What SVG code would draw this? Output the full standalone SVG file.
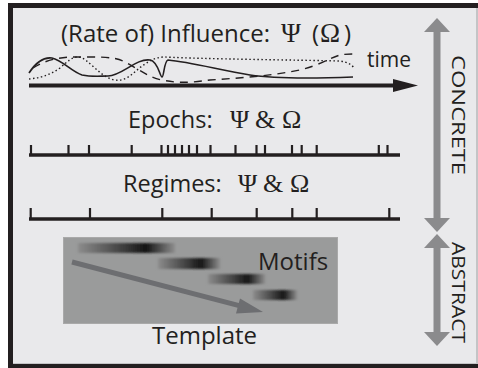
<svg xmlns="http://www.w3.org/2000/svg" width="478" height="368" viewBox="0 0 478 368">
<style>
.t{font-family:"Open Sans","Liberation Sans",sans-serif;fill:#231f20}
.s{font-family:"Liberation Serif","Times New Roman",serif;font-size:26px}
.ax{stroke:#231f20;fill:none}
.tk{stroke:#231f20;stroke-width:2.2;fill:none}
.ga{fill:#8b8b8d}
</style>
<defs>
<linearGradient id="mg" x1="0" y1="0" x2="1" y2="0">
<stop offset="0" stop-color="#8c8c8c"/>
<stop offset="0.4" stop-color="#4a4a4a"/>
<stop offset="0.7" stop-color="#151515"/>
<stop offset="1" stop-color="#8e8e8e"/>
</linearGradient>
<filter id="bl" x="-10%" y="-50%" width="120%" height="200%"><feGaussianBlur stdDeviation="1.5 1"/></filter>
</defs>
<g id="frame">
<rect x="8" y="3" width="475" height="370" fill="#231f20"/>
<rect x="13" y="8" width="465" height="356" fill="#c4c4c6"/>
<rect x="13" y="8" width="463" height="355" fill="#e9e9eb"/>
</g>
<g id="influence">
<text class="t" y="42" font-size="24"><tspan x="61">(Rate of) Influence:</tspan><tspan class="s" x="281" style="font-size:27px">Ψ</tspan><tspan x="312">(</tspan><tspan class="s" x="320" style="font-size:27px">Ω</tspan><tspan x="344">)</tspan></text>
<text class="t" x="367" y="67" font-size="21">time</text>
<path class="ax" stroke-width="1.6" d="M29,73 C36,62 44,57 52,58 C62,60 72,72 82,75 C92,77 100,76 108,76 C122,76 136,58 150,60 C158,61 160,77 162,77 C164,77 164,61 168,60 C190,62 220,70 250,75 C270,78 300,79 353,77"/>
<path class="ax" stroke-width="1.4" stroke-dasharray="8 6" d="M33,68 C45,60 60,57 75,57 C95,57 115,56 125,62 C140,70 150,78 162,80 C180,84 195,82 210,80 C240,78 270,76 300,70 C320,65 330,58 340,55 C345,54 350,54 355,54"/>
<path class="ax" stroke-width="1.4" stroke-dasharray="1.5 2.5" d="M29,79 C40,78 50,75 60,68 C68,61 72,57 78,57 C88,57 100,78 115,80 C128,82 135,70 145,64 C152,59 158,57 165,57 C200,59 300,60 340,61 C348,62 352,65 354,68"/>
</g>
<g id="connectors">
<line class="ax" x1="29" y1="85.5" x2="396" y2="85.5" stroke-width="4"/>
<polygon points="393,79 418,85.5 393,92" fill="#231f20"/>
</g>
<g id="epochs">
<text class="t" y="128" font-size="23.5"><tspan x="128">Epochs:</tspan><tspan class="s" x="230">Ψ</tspan><tspan class="s" x="255">&amp;</tspan><tspan class="s" x="282">Ω</tspan></text>
<line class="ax" x1="29" y1="155" x2="400" y2="155" stroke-width="3.5"/>
<path class="tk" d="M31,145V155M68.5,145V155M89,145V155M131.7,145V155M161.5,145V155M168,145V155M175,145V155M182,145V155M189,145V155M197,145V155M210.5,145V155M235.5,145V155M256.5,145V155M265,145V155M292,145V155M301.7,145V155M316.7,145V155M378.8,145V155M387.5,145V155"/>
</g>
<g id="regimes">
<text class="t" y="192" font-size="23.5"><tspan x="123">Regimes:</tspan><tspan class="s" x="238">Ψ</tspan><tspan class="s" x="263">&amp;</tspan><tspan class="s" x="290">Ω</tspan></text>
<line class="ax" x1="29" y1="219" x2="400" y2="219" stroke-width="3.5"/>
<path class="tk" d="M30.7,208V219M90,208V219M162.3,208V219M211.7,208V219M256.7,208V219M292.3,208V219M316.7,208V219M389.3,208V219"/>
</g>
<g id="template">
<rect x="63.5" y="237.5" width="274" height="86" fill="#9a9b9b" stroke="#a9a9a9"/>
<g filter="url(#bl)">
<rect x="78" y="243" width="97" height="10" fill="url(#mg)"/>
<rect x="158" y="258" width="62" height="11" fill="url(#mg)"/>
<rect x="208" y="274" width="57" height="10" fill="url(#mg)"/>
<rect x="253" y="290" width="44" height="10" fill="url(#mg)"/>
</g>
<line x1="72" y1="262" x2="242" y2="306.4" stroke="#6d6e71" stroke-width="5"/>
<polygon points="263,312 236,313.5 240,298.5" fill="#6d6e71"/>
<text class="t" x="258" y="270" font-size="24">Motifs</text>
<text class="t" x="152" y="344" font-size="24">Template</text>
</g>
<g id="concrete">
<rect class="ga" x="433.5" y="31" width="7" height="188"/>
<polygon class="ga" points="437,18 450,32 424,32"/>
<polygon class="ga" points="437,232 450,218 424,218"/>
<text class="t" font-size="19" x="-60" y="0" textLength="120" lengthAdjust="spacingAndGlyphs" transform="translate(452,115) rotate(90)">CONCRETE</text>
</g>
<g id="abstract">
<rect class="ga" x="433.5" y="247" width="7" height="86"/>
<polygon class="ga" points="437,234 450,248 424,248"/>
<polygon class="ga" points="437,346 450,332 424,332"/>
<text class="t" font-size="19" x="-50.5" y="0" textLength="101" lengthAdjust="spacingAndGlyphs" transform="translate(452,292.5) rotate(90)">ABSTRACT</text>
</g>
</svg>
